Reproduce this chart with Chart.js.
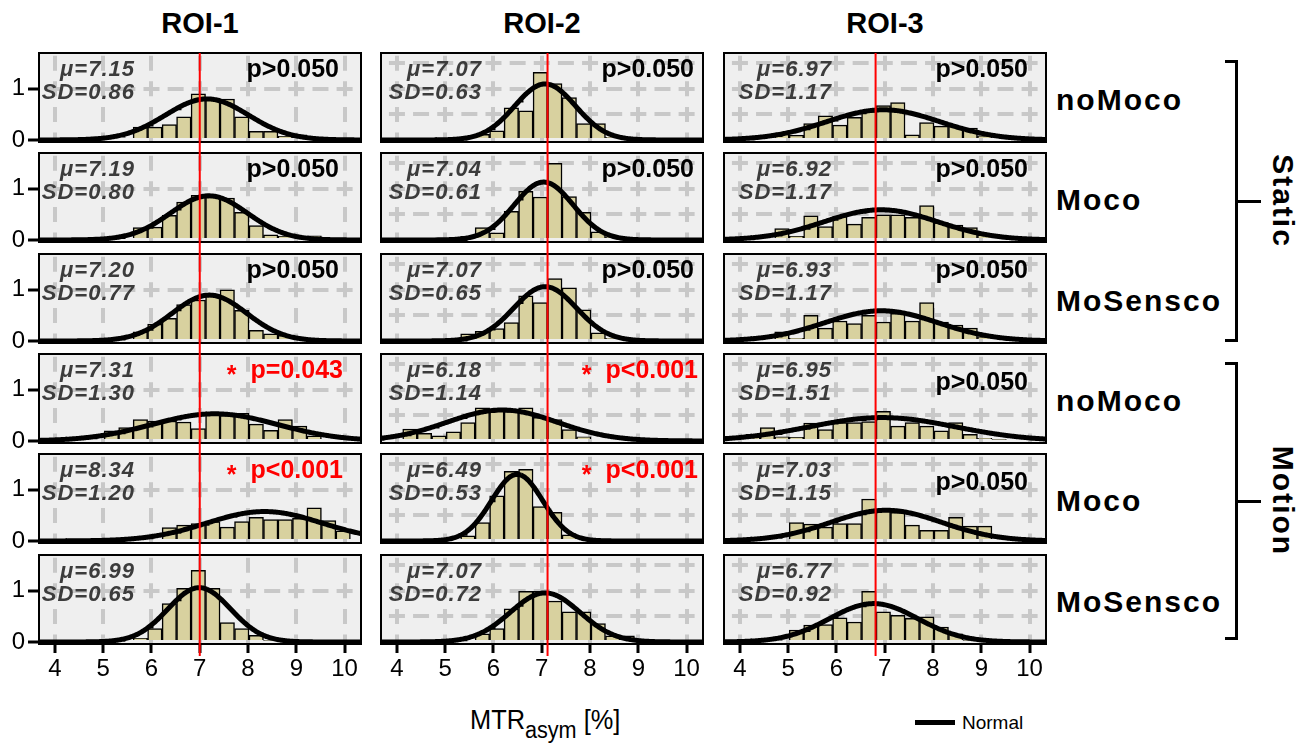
<!DOCTYPE html>
<html>
<head>
<meta charset="utf-8">
<title>MTRasym histograms</title>
<script src="https://cdn.jsdelivr.net/npm/chart.js@4.4.1/dist/chart.umd.min.js"></script>
<style>
  html, body { margin: 0; padding: 0; background: #fff; }
  body { position: relative; width: 1306px; height: 743px; overflow: hidden;
         font-family: "Liberation Sans", Arial, sans-serif; color: #000; }
  canvas { position: absolute; }
  .t { position: absolute; white-space: nowrap; line-height: 1; }
  .title { font-size: 29px; font-weight: bold; transform: translate(-50%, -50%); }
  .cond { font-size: 30px; font-weight: bold; letter-spacing: 2px; transform: translateY(-50%); }
  .group { font-size: 30px; font-weight: bold; letter-spacing: 2px; transform: translate(-50%, -50%) rotate(90deg); }
  .ln { position: absolute; background: #000; }
</style>
</head>
<body>
<script>
"use strict";

// ---- データ ----
// ヒストグラムのビン（全パネル共通、幅0.3）
const binStart = 3.82;
const binWidth = 0.3;
const xTicks = [4, 5, 6, 7, 8, 9, 10];
const rois = ["ROI-1", "ROI-2", "ROI-3"];
const conditions = ["noMoco", "Moco", "MoSensco", "noMoco", "Moco", "MoSensco"];
const groups = ["Static", "Motion"];
// 赤線（各ROIの基準値）
const refLines = [7.0, 7.12, 6.81];

// ROI-1
const roi1Mean = [7.15, 7.19, 7.20, 7.31, 8.34, 6.99];
const roi1Sd = [0.86, 0.80, 0.77, 1.30, 1.20, 0.65];
const roi1P = ["p>0.050", "p>0.050", "p>0.050", "p=0.043", "p<0.001", ""];
const roi1FirstBin = [6, 6, 6, 4, 8, 6];
const roi1Hist = [
    [0.25, 0.25, 0.30, 0.45, 0.90, 0.82, 0.80, 0.45, 0.17, 0.17, 0.07, 0.10],
    [0.24, 0.25, 0.48, 0.74, 0.87, 0.87, 0.82, 0.54, 0.28, 0.10, 0.07, 0.05, 0.08],
    [0.18, 0.33, 0.44, 0.71, 0.80, 0.90, 1.00, 0.60, 0.21, 0.14, 0.11],
    [0.20, 0.26, 0.42, 0.39, 0.39, 0.37, 0.24, 0.52, 0.50, 0.54, 0.33, 0.21, 0.42, 0.29, 0.10],
    [0.26, 0.31, 0.34, 0.38, 0.27, 0.38, 0.46, 0.42, 0.42, 0.44, 0.65, 0.40, 0.20],
    [0.07, 0.26, 0.75, 1.05, 1.40, 1.05, 0.38, 0.26, 0.13, 0.03]
];

// ROI-2
const roi2Mean = [7.07, 7.04, 7.07, 6.18, 6.49, 7.07];
const roi2Sd = [0.63, 0.61, 0.65, 1.14, 0.53, 0.72];
const roi2P = ["p>0.050", "p>0.050", "p>0.050", "p<0.001", "p<0.001", ""];
const roi2FirstBin = [6, 5, 5, 1, 5, 6];
const roi2Hist = [
    [0.11, 0.18, 0.63, 0.57, 1.32, 1.10, 0.83, 0.32, 0.32, 0.05],
    [0.07, 0.24, 0.14, 0.56, 0.95, 0.84, 1.50, 0.85, 0.54, 0.16, 0.05],
    [0.14, 0.19, 0.24, 0.36, 0.88, 0.75, 1.22, 1.04, 0.61, 0.16, 0.05],
    [0.23, 0.15, 0.10, 0.18, 0.36, 0.65, 0.59, 0.58, 0.65, 0.46, 0.42, 0.22, 0.08],
    [0.10, 0.36, 0.88, 1.36, 1.40, 0.67, 0.56, 0.12],
    [0.16, 0.26, 0.65, 0.99, 0.99, 0.80, 0.59, 0.59, 0.36, 0.12, 0.12]
];

// ROI-3
const roi3Mean = [6.97, 6.92, 6.93, 6.95, 7.03, 6.77];
const roi3Sd = [1.17, 1.17, 1.17, 1.51, 1.15, 0.92];
const roi3P = ["p>0.050", "p>0.050", "p>0.050", "p>0.050", "p>0.050", ""];
const roi3FirstBin = [3, 3, 3, 1, 4, 4];
const roi3Hist = [
    [0.14, 0.09, 0.32, 0.47, 0.29, 0.44, 0.56, 0.67, 0.73, 0.10, 0.34, 0.27, 0.27, 0.23, 0.08],
    [0.22, 0.07, 0.47, 0.26, 0.46, 0.31, 0.44, 0.49, 0.49, 0.44, 0.67, 0.34, 0.29, 0.24, 0.10],
    [0.18, 0.05, 0.50, 0.25, 0.39, 0.34, 0.50, 0.37, 0.54, 0.39, 0.75, 0.37, 0.31, 0.25, 0.08],
    [0.13, 0.26, 0.08, 0.07, 0.35, 0.22, 0.36, 0.36, 0.38, 0.58, 0.29, 0.36, 0.29, 0.20, 0.36, 0.13, 0.05, 0.03],
    [0.36, 0.33, 0.27, 0.34, 0.34, 0.82, 0.62, 0.56, 0.31, 0.21, 0.21, 0.46, 0.29, 0.29],
    [0.23, 0.33, 0.34, 0.47, 0.39, 0.99, 0.59, 0.52, 0.46, 0.49, 0.29, 0.16, 0.03]
];

const means = [roi1Mean, roi2Mean, roi3Mean];
const sds = [roi1Sd, roi2Sd, roi3Sd];
const pTexts = [roi1P, roi2P, roi3P];
const firstBins = [roi1FirstBin, roi2FirstBin, roi3FirstBin];
const hists = [roi1Hist, roi2Hist, roi3Hist];

// ---- レイアウト ----
const colLeft = [39, 381, 724];
const boxW = 322;
const rowTop = [53, 153, 254, 354, 454, 555];
const boxH = 89;
const padT = 6;
const xMin = 3.67, xMax = 10.34;
const yMin = -0.04, yMax = 1.7;
const muRight = [96, 101, 108];
const pRight = [300, 313, 304];
const FONT = "'Liberation Sans', Arial, sans-serif";

// 正規分布曲線（表示上の高さ係数）
const normalScale = 0.69;

function normalCurve(mu, sd) {
    const pts = [];
    for (let x = xMin; x <= xMax + 1e-9; x += 0.02) {
        const z = (x - mu) / sd;
        pts.push({ x: x, y: normalScale / sd * Math.exp(-0.5 * z * z) });
    }
    return pts;
}

/*
 * パネル装飾（背景・枠・赤線・テキスト）
 */
const panelPlugin = {
    id: "panel",
    beforeDraw(chart, args, opts) {
        const a = chart.chartArea;
        const ctx = chart.ctx;
        ctx.save();
        ctx.fillStyle = "#efefef";
        ctx.fillRect(a.left, a.top, a.right - a.left, a.bottom - a.top);
        ctx.restore();
    },
    afterDraw(chart, args, opts) {
        const a = chart.chartArea;
        const ctx = chart.ctx;
        ctx.save();
        // 枠
        ctx.strokeStyle = "#000";
        ctx.lineWidth = 2;
        ctx.strokeRect(a.left, a.top, a.right - a.left, a.bottom - a.top);
        // 赤線
        const rx = chart.scales.x.getPixelForValue(opts.ref);
        ctx.strokeStyle = "#ff0000";
        ctx.lineWidth = 2;
        ctx.beginPath();
        ctx.moveTo(rx, opts.first ? a.top : 0);
        ctx.lineTo(rx, opts.last ? a.bottom + 12 : chart.height);
        ctx.stroke();
        // μ / SD
        ctx.fillStyle = "#3c3c3c";
        ctx.textAlign = "right";
        ctx.textBaseline = "middle";
        ctx.font = "italic bold 22px " + FONT;
        ctx.letterSpacing = "1px";
        ctx.fillText("\u03bc=" + opts.mu.toFixed(2), a.left + opts.muRight, a.top + 17);
        ctx.fillText("SD=" + opts.sd.toFixed(2), a.left + opts.muRight, a.top + 40);
        // p値
        if (opts.p) {
            const sig = !opts.p.startsWith("p>");
            ctx.letterSpacing = "0px";
            ctx.font = "bold 25px " + FONT;
            ctx.fillStyle = sig ? "#ff0000" : "#000";
            const px = a.left + opts.pRight + (sig ? 4 : 0);
            const py = a.top + opts.pDy;
            ctx.fillText(opts.p, px, py);
            if (sig) {
                const w = ctx.measureText(opts.p).width;
                ctx.fillText("*", px - w - 14, py + 5);
            }
        }
        ctx.restore();
    }
};

function buildPanel(r, c) {
    const first = r === 0;
    const last = r === rowTop.length - 1;
    const left = c === 0 ? 0 : colLeft[c] - 2;
    const width = c === 0 ? colLeft[c] + boxW + 2 : boxW + 4;
    const height = last ? padT + boxH + 40 : rowTop[r + 1] - rowTop[r];

    const canvas = document.createElement("canvas");
    canvas.width = width;
    canvas.height = height;
    canvas.style.left = left + "px";
    canvas.style.top = (rowTop[r] - padT) + "px";
    document.body.appendChild(canvas);

    const fb = firstBins[c][r];
    const bars = hists[c][r].map((h, i) => ({ x: binStart + binWidth * (fb + i + 0.5), y: h }));
    const mu = means[c][r];
    const sd = sds[c][r];
    const pDy = (c === 2 && (r === 3 || r === 4)) ? 29 : 17;

    return new Chart(canvas, {
        type: "bar",
        data: {
            datasets: [
                {
                    type: "line",
                    label: "Normal",
                    data: normalCurve(mu, sd),
                    borderColor: "#000",
                    borderWidth: 5,
                    pointRadius: 0,
                    tension: 0,
                    order: 0
                },
                {
                    type: "bar",
                    data: bars,
                    backgroundColor: "#d8d19f",
                    borderColor: "#000",
                    borderWidth: 1.5,
                    categoryPercentage: 1,
                    barPercentage: 1,
                    order: 1
                }
            ]
        },
        options: {
            responsive: false,
            animation: false,
            events: [],
            layout: {
                autoPadding: false,
                padding: {
                    top: padT,
                    bottom: last ? 0 : height - padT - boxH,
                    left: c === 0 ? 0 : 2,
                    right: 2
                }
            },
            plugins: {
                legend: { display: false },
                tooltip: { enabled: false },
                panel: {
                    ref: refLines[c], first: first, last: last,
                    mu: mu, sd: sd, p: pTexts[c][r],
                    muRight: muRight[c], pRight: pRight[c], pDy: pDy
                }
            },
            scales: {
                x: {
                    type: "linear",
                    min: xMin,
                    max: xMax,
                    offset: false,
                    afterBuildTicks: s => { s.ticks = xTicks.map(v => ({ value: v })); },
                    ticks: {
                        display: last,
                        color: "#000",
                        padding: 2,
                        font: { size: 24, family: FONT }
                    },
                    grid: {
                        offset: false,
                        color: "#c8c8c8",
                        lineWidth: 4,
                        drawTicks: last,
                        tickLength: 9,
                        tickWidth: 3,
                        tickColor: "#000"
                    },
                    border: { display: false, dash: [15, 10.58], dashOffset: 22.85 },
                    afterFit: s => {
                        s.height = last ? 40 : 0;
                        s.paddingLeft = 0; s.paddingRight = 0;
                    }
                },
                y: {
                    type: "linear",
                    min: yMin,
                    max: yMax,
                    afterBuildTicks: s => { s.ticks = [0, 0.5, 1, 1.5].map(v => ({ value: v })); },
                    ticks: {
                        display: c === 0,
                        color: "#000",
                        padding: 3,
                        font: { size: 24, family: FONT },
                        callback: v => (v === 0 || v === 1) ? String(v) : ""
                    },
                    grid: {
                        color: ctx => (ctx.tick && ctx.tick.value === 0) ? "rgba(0,0,0,0)" : "#c8c8c8",
                        lineWidth: 4,
                        drawTicks: c === 0,
                        tickLength: 11,
                        tickWidth: 3,
                        tickColor: ctx => (ctx.tick && (ctx.tick.value === 0 || ctx.tick.value === 1)) ? "#000" : "rgba(0,0,0,0)"
                    },
                    border: { display: false, dash: [16, 8.14], dashOffset: 16.21 },
                    afterFit: s => {
                        s.width = c === 0 ? colLeft[0] : 0;
                        s.paddingTop = 0; s.paddingBottom = 0;
                    }
                }
            }
        },
        plugins: [panelPlugin]
    });
}

for (let r = 0; r < rowTop.length; r++) {
    for (let c = 0; c < colLeft.length; c++) {
        buildPanel(r, c);
    }
}

// ---- 文字・括弧 ----
function addText(cls, html, x, y, extra) {
    const d = document.createElement("div");
    d.className = "t " + cls;
    d.innerHTML = html;
    d.style.left = x + "px";
    d.style.top = y + "px";
    if (extra) Object.assign(d.style, extra);
    document.body.appendChild(d);
    return d;
}
function addLine(x, y, w, h) {
    const d = document.createElement("div");
    d.className = "ln";
    Object.assign(d.style, { left: x + "px", top: y + "px", width: w + "px", height: h + "px" });
    document.body.appendChild(d);
}

rois.forEach((name, c) => addText("title", name, colLeft[c] + boxW / 2, 23));
conditions.forEach((name, r) => addText("cond", name, 1056, rowTop[r] + 47));

const bracketSpan = [[60, 342], [362, 640]];
groups.forEach((name, g) => {
    const [y0, y1] = bracketSpan[g];
    const ym = (y0 + y1) / 2;
    addLine(1235, y0, 3, y1 - y0);
    addLine(1225, y0, 12, 3);
    addLine(1225, y1 - 3, 12, 3);
    addLine(1235, ym - 1, 26, 3);
    addText("group", name, 1283, ym);
});

addText("", "MTR<span style=\"font-size:23px;position:relative;top:9px\">asym</span> [%]", 470, 707,
        { fontSize: "27px", transform: "scaleX(0.94)", transformOrigin: "left center" });
addLine(915, 720, 40, 5);
addText("", "Normal", 962, 713, { fontSize: "19px" });
</script>
</body>
</html>
